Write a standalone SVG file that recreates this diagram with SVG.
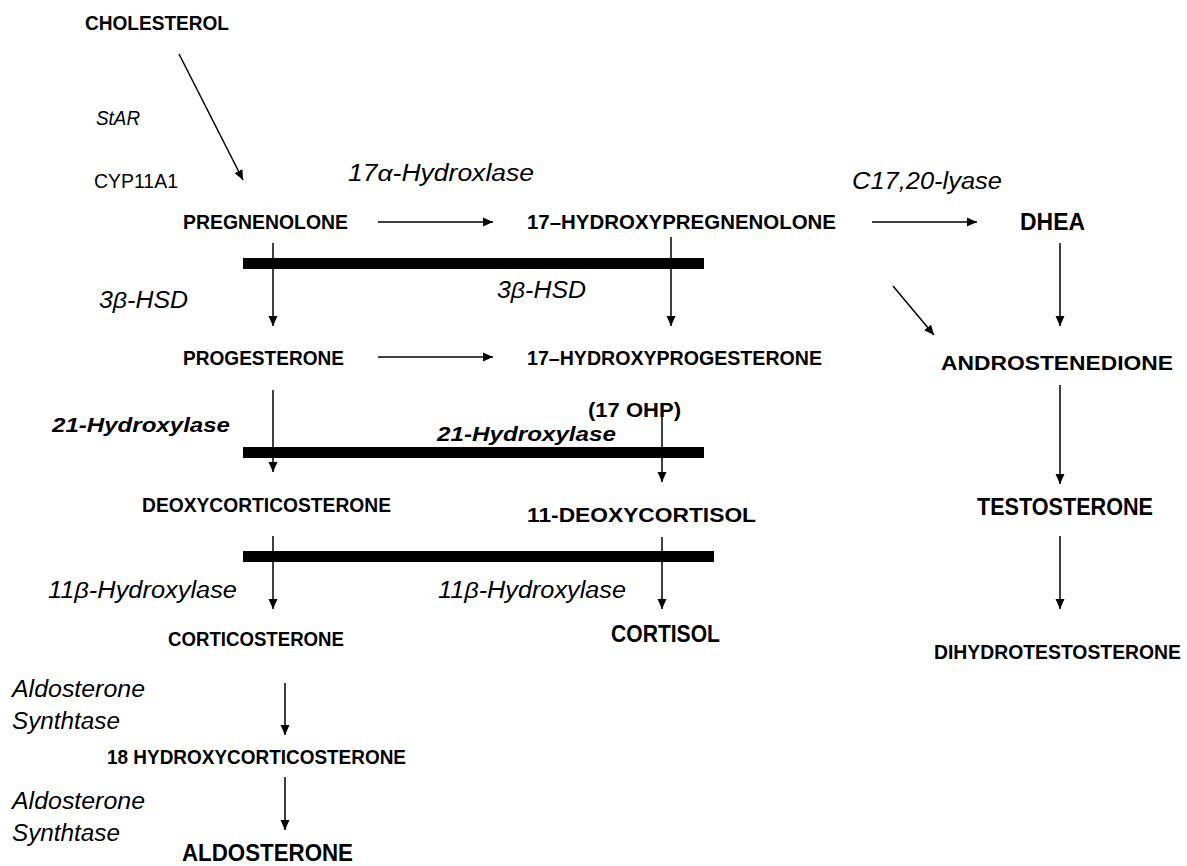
<svg xmlns="http://www.w3.org/2000/svg" width="1187" height="866" viewBox="0 0 1187 866">
<defs>
<marker id="ah" markerUnits="userSpaceOnUse" markerWidth="10" markerHeight="10" refX="10" refY="5" orient="auto">
<path d="M0,0.5 L10,5 L0,9.5 z" fill="#000"/>
</marker>
<style>
text{font-family:"Liberation Sans",Arial,sans-serif;fill:#000}
.n{font-weight:bold;font-size:20px}
.nb{font-weight:bold;font-size:23px}
.e{font-style:italic;font-size:23px}
.eb{font-style:italic;font-weight:bold;font-size:21px}
.s{font-size:20px}
.c line{stroke:#000;stroke-width:1.5;marker-end:url(#ah)}
.bar{fill:#000}
</style>
</defs>
<rect width="1187" height="866" fill="#fff"/>
<g id="bars">
<rect class="bar" x="243" y="258" width="461" height="11"/>
<rect class="bar" x="243" y="447" width="461" height="11"/>
<rect class="bar" x="243" y="551" width="471" height="11"/>
</g>
<g class="c" id="connectors">
<line x1="179" y1="54" x2="243" y2="180"/>
<line x1="378" y1="222" x2="493" y2="222"/>
<line x1="872" y1="222" x2="977" y2="222"/>
<line x1="893" y1="286" x2="934" y2="335"/>
<line x1="1060" y1="243" x2="1060" y2="326"/>
<line x1="273" y1="243" x2="273" y2="326"/>
<line x1="671" y1="237" x2="671" y2="326"/>
<line x1="378" y1="357" x2="493" y2="357"/>
<line x1="273" y1="390" x2="273" y2="472"/>
<line x1="662" y1="408" x2="662" y2="482"/>
<line x1="273" y1="536" x2="273" y2="609"/>
<line x1="662" y1="537" x2="662" y2="609"/>
<line x1="285" y1="683" x2="285" y2="735"/>
<line x1="285" y1="777" x2="285" y2="830"/>
<line x1="1060" y1="385" x2="1060" y2="484"/>
<line x1="1060" y1="536" x2="1060" y2="609"/>
</g>
<g id="cholesterol"><text class="n" x="85" y="30" textLength="144" lengthAdjust="spacingAndGlyphs">CHOLESTEROL</text></g>
<g id="star"><text class="s" font-style="italic" x="96" y="125" textLength="44" lengthAdjust="spacingAndGlyphs">StAR</text></g>
<g id="cyp11a1"><text class="s" x="94" y="188" textLength="84" lengthAdjust="spacingAndGlyphs">CYP11A1</text></g>
<g id="e17a"><text class="e" x="348" y="181" textLength="186" lengthAdjust="spacingAndGlyphs">17α-Hydroxlase</text></g>
<g id="pregnenolone"><text class="n" x="183" y="229" textLength="165" lengthAdjust="spacingAndGlyphs">PREGNENOLONE</text></g>
<g id="hpreg"><text class="n" x="527" y="229" textLength="309" lengthAdjust="spacingAndGlyphs">17–HYDROXYPREGNENOLONE</text></g>
<g id="lyase"><text class="e" x="852" y="189" textLength="150" lengthAdjust="spacingAndGlyphs">C17,20-lyase</text></g>
<g id="dhea"><text class="nb" x="1020" y="230" textLength="65" lengthAdjust="spacingAndGlyphs">DHEA</text></g>
<g id="hsd1"><text class="e" x="99" y="308" textLength="89" lengthAdjust="spacingAndGlyphs">3β-HSD</text></g>
<g id="hsd2"><text class="e" x="497" y="298" textLength="89" lengthAdjust="spacingAndGlyphs">3β-HSD</text></g>
<g id="progesterone"><text class="n" x="183" y="365" textLength="161" lengthAdjust="spacingAndGlyphs">PROGESTERONE</text></g>
<g id="hprog"><text class="n" x="527" y="365" textLength="295" lengthAdjust="spacingAndGlyphs">17–HYDROXYPROGESTERONE</text></g>
<g id="ohp"><text class="n" font-size="19" x="588" y="417" textLength="93" lengthAdjust="spacingAndGlyphs">(17 OHP)</text></g>
<g id="androstenedione"><text class="n" x="941" y="370" textLength="232" lengthAdjust="spacingAndGlyphs">ANDROSTENEDIONE</text></g>
<g id="h21a"><text class="eb" x="52" y="432" textLength="178" lengthAdjust="spacingAndGlyphs">21-Hydroxylase</text></g>
<g id="h21b"><text class="eb" x="437" y="441" textLength="179" lengthAdjust="spacingAndGlyphs">21-Hydroxylase</text></g>
<g id="doc"><text class="n" x="142" y="512" textLength="249" lengthAdjust="spacingAndGlyphs">DEOXYCORTICOSTERONE</text></g>
<g id="deoxycortisol"><text class="n" x="527" y="522" textLength="229" lengthAdjust="spacingAndGlyphs">11-DEOXYCORTISOL</text></g>
<g id="testosterone"><text class="nb" x="977" y="515" textLength="176" lengthAdjust="spacingAndGlyphs">TESTOSTERONE</text></g>
<g id="h11a"><text class="e" x="48" y="598" textLength="189" lengthAdjust="spacingAndGlyphs">11β-Hydroxylase</text></g>
<g id="h11b"><text class="e" x="438" y="598" textLength="188" lengthAdjust="spacingAndGlyphs">11β-Hydroxylase</text></g>
<g id="corticosterone"><text class="n" x="168" y="646" textLength="176" lengthAdjust="spacingAndGlyphs">CORTICOSTERONE</text></g>
<g id="cortisol"><text class="nb" x="611" y="642" textLength="109" lengthAdjust="spacingAndGlyphs">CORTISOL</text></g>
<g id="dht"><text class="n" x="934" y="659" textLength="247" lengthAdjust="spacingAndGlyphs">DIHYDROTESTOSTERONE</text></g>
<g id="as1"><text class="e" x="12" y="697" textLength="133" lengthAdjust="spacingAndGlyphs">Aldosterone</text><text class="e" x="12" y="729" textLength="108" lengthAdjust="spacingAndGlyphs">Synthtase</text></g>
<g id="hcort18"><text class="n" x="107" y="764" textLength="299" lengthAdjust="spacingAndGlyphs">18 HYDROXYCORTICOSTERONE</text></g>
<g id="as2"><text class="e" x="12" y="809" textLength="133" lengthAdjust="spacingAndGlyphs">Aldosterone</text><text class="e" x="12" y="841" textLength="108" lengthAdjust="spacingAndGlyphs">Synthtase</text></g>
<g id="aldosterone"><text class="nb" x="182" y="861" textLength="171" lengthAdjust="spacingAndGlyphs">ALDOSTERONE</text></g>
</svg>
